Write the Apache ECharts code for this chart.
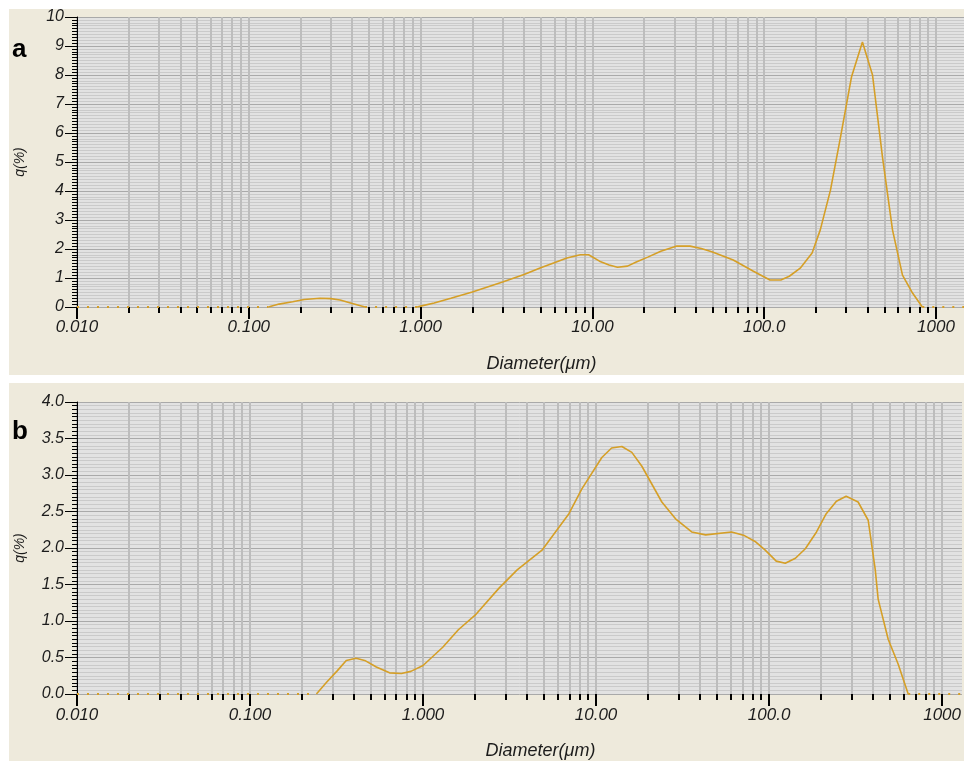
<!DOCTYPE html>
<html>
<head>
<meta charset="utf-8">
<script src="https://cdn.jsdelivr.net/npm/echarts@6/dist/echarts.min.js"></script>
<style>
  html, body { margin: 0; padding: 0; background: #ffffff; }
  #chart { width: 964px; height: 761px; }
</style>
</head>
<body>
<div id="chart"></div>
<script>
// Particle size distributions, q(%) against diameter (µm), two samples.
const diamA = [0.01, 0.13, 0.15, 0.18, 0.21, 0.26, 0.3, 0.34, 0.4, 0.475, 0.955,
  1.0, 1.2, 1.5, 2.0, 3.0, 4.0, 5.0, 6.0, 7.1, 8.5, 9.5, 11, 12.5, 14, 16, 18, 21, 25,
  31, 37, 43, 50, 66, 86, 108, 125, 140, 162, 190, 212, 243, 278, 322, 373, 427, 488,
  558, 638, 730, 832, 1455];
const qA = [0, 0, 0.1, 0.18, 0.26, 0.3, 0.29, 0.24, 0.12, 0, 0,
  0.03, 0.14, 0.3, 0.52, 0.86, 1.12, 1.35, 1.53, 1.69, 1.8, 1.8, 1.58, 1.45, 1.37, 1.41, 1.55, 1.72, 1.92,
  2.1, 2.1, 2.02, 1.9, 1.62, 1.24, 0.93, 0.93, 1.06, 1.34, 1.86, 2.66, 4.03, 5.86, 7.93, 9.14, 8.0, 5.17,
  2.66, 1.1, 0.48, 0, 0];

const diamB = [0.01, 0.242, 0.277, 0.32, 0.36, 0.41, 0.46, 0.537, 0.64, 0.75, 0.85,
  1.0, 1.3, 1.6, 2.0, 2.75, 3.5, 4.87, 6.97, 8.28, 10.8, 12.3, 14.1, 16.1, 18.4, 24,
  28.8, 35.7, 43, 60.7, 72, 83, 95, 110, 124, 142, 162, 188, 214, 245, 279, 327, 374,
  411, 427, 488, 557, 637, 1303];
const qB = [0, 0, 0.16, 0.32, 0.46, 0.49, 0.46, 0.37, 0.29, 0.28, 0.31,
  0.39, 0.64, 0.88, 1.08, 1.45, 1.7, 1.97, 2.47, 2.81, 3.24, 3.37, 3.39, 3.31, 3.12, 2.63,
  2.4, 2.22, 2.18, 2.22, 2.17, 2.09, 1.97, 1.82, 1.79, 1.86, 1.99, 2.22, 2.47, 2.64, 2.71, 2.63, 2.38,
  1.7, 1.3, 0.75, 0.41, 0, 0];

// Axis ticks and labels
const decadeTicks = [0.01, 0.1, 1, 10, 100, 1000];
const decadeLabels = ['0.010', '0.100', '1.000', '10.00', '100.0', '1000'];
const minorFactors = [2, 3, 4, 5, 6, 7, 8, 9];
const xMaxA = 1455;
const xMaxB = 1303;
const yTicksA = { min: 0, max: 10, step: 1 };
const yTicksB = { min: 0, max: 4, step: 0.5 };

const lineColor = '#d59f27';
const inkColor = '#1c1c1c';

// every 2..9 × 10^k position plus the decades themselves
const allLogTicks = [];
decadeTicks.forEach(function (d) {
  allLogTicks.push(d);
  if (d < 1000) minorFactors.forEach(function (f) { allLogTicks.push(+(d * f).toPrecision(6)); });
});
const minorLogTicks = allLogTicks.filter(function (v) { return decadeTicks.indexOf(v) < 0; });

function decadeLabel(v) {
  let best = 0, err = Infinity;
  decadeTicks.forEach(function (d, i) {
    const e = Math.abs(Math.log10(v) - Math.log10(d));
    if (e < err) { err = e; best = i; }
  });
  return decadeLabels[best];
}

// Split a curve into its solid part (segments touching a non-zero value)
// and its dotted baseline part (segments where both ends are zero).
function splitCurve(xs, ys) {
  const solid = [], dotted = [];
  for (let i = 0; i < xs.length; i++) {
    solid.push([xs[i], ys[i]]);
    dotted.push([xs[i], ys[i] === 0 ? 0 : null]);
    if (i < xs.length - 1) {
      const gap = Math.sqrt(xs[i] * xs[i + 1]);
      const bothZero = ys[i] === 0 && ys[i + 1] === 0;
      if (bothZero) solid.push([gap, null]);
      else dotted.push([gap, null]);
    }
  }
  return { solid: solid, dotted: dotted };
}

const labelFont = { fontFamily: 'Liberation Sans, Arial, sans-serif', fontStyle: 'italic', color: inkColor };

function xAxesFor(gridIndex, xMax, labelMargin) {
  return [
    {
      type: 'log', gridIndex: gridIndex, position: 'bottom', min: 0.01, max: xMax, logBase: 10,
      name: 'Diameter(μm)', nameLocation: 'middle', nameGap: 48,
      nameTextStyle: Object.assign({ fontSize: 18, padding: [0, 0, 0, 42] }, labelFont),
      axisLine: { show: false, onZero: false },
      axisTick: { show: true, inside: false, length: 12, customValues: decadeTicks,
        lineStyle: { color: '#000', width: 2 } },
      axisLabel: Object.assign({ show: true, fontSize: 17, margin: labelMargin,
        customValues: decadeTicks, formatter: decadeLabel, showMinLabel: true, showMaxLabel: true }, labelFont),
      splitLine: { show: false },
      minorTick: { show: false }, minorSplitLine: { show: false }
    },
    {
      type: 'log', gridIndex: gridIndex, position: 'bottom', offset: 0, min: 0.01, max: xMax, logBase: 10,
      axisLine: { show: false, onZero: false },
      axisTick: { show: true, inside: false, length: 6, customValues: minorLogTicks,
        lineStyle: { color: '#000', width: 2 } },
      axisLabel: { show: false },
      splitLine: { show: false }
    },
    {
      type: 'log', gridIndex: gridIndex, position: 'bottom', offset: 0, min: 0.01, max: xMax, logBase: 10,
      axisLine: { show: false, onZero: false },
      axisTick: { show: false, customValues: allLogTicks },
      axisLabel: { show: false },
      splitLine: { show: true, lineStyle: { color: '#bdbdbd', width: 2 } }
    }
  ];
}

function yAxisFor(gridIndex, t, fmt) {
  return {
    type: 'value', gridIndex: gridIndex, min: t.min, max: t.max, interval: t.step,
    name: 'q(%)', nameLocation: 'middle', nameGap: 50, nameRotate: 90,
    nameTextStyle: Object.assign({ fontSize: 14 }, labelFont),
    axisLine: { show: true, lineStyle: { color: '#000', width: 1 } },
    axisTick: { show: true, length: 12, lineStyle: { color: '#000', width: 1 } },
    minorTick: { show: true, splitNumber: 10, length: 5, lineStyle: { color: '#000', width: 1 } },
    axisLabel: Object.assign({ fontSize: 16, margin: 13, formatter: fmt }, labelFont),
    splitLine: { show: true, lineStyle: { color: '#a9a9a9', width: 1 } },
    minorSplitLine: { show: true, lineStyle: { color: '#cacaca', width: 1 } }
  };
}

const curveA = splitCurve(diamA, qA);
const curveB = splitCurve(diamB, qB);

function curveSeries(xIdx, yIdx, curve) {
  return [
    {
      type: 'line', xAxisIndex: xIdx, yAxisIndex: yIdx, data: curve.dotted,
      showSymbol: false, connectNulls: false, silent: true, z: 3,
      lineStyle: { color: lineColor, width: 2.2, type: [2, 8], cap: 'butt' }
    },
    {
      type: 'line', xAxisIndex: xIdx, yAxisIndex: yIdx, data: curve.solid,
      showSymbol: false, connectNulls: false, silent: true, z: 4,
      lineStyle: { color: lineColor, width: 1.6 }
    }
  ];
}

const chart = echarts.init(document.getElementById('chart'), null, { renderer: 'canvas' });

chart.setOption({
  animation: false,
  backgroundColor: '#ffffff',
  graphic: [
    { type: 'rect', z: -100, shape: { x: 9, y: 9, width: 955, height: 366 }, style: { fill: '#eeeadc' }, silent: true },
    { type: 'rect', z: -100, shape: { x: 9, y: 383, width: 955, height: 378 }, style: { fill: '#eeeadc' }, silent: true },
    { type: 'text', z: 10, x: 12, y: 37, style: { text: 'a', font: 'bold 26px "Liberation Sans", Arial, sans-serif', fill: '#000', textBaseline: 'alphabetic' } },
    { type: 'text', z: 10, x: 12, y: 419, style: { text: 'b', font: 'bold 26px "Liberation Sans", Arial, sans-serif', fill: '#000', textBaseline: 'alphabetic' } }
  ],
  grid: [
    { left: 77, top: 17, width: 887, height: 290, show: true, backgroundColor: '#e2e2e2', borderWidth: 0, containLabel: false },
    { left: 77, top: 402, width: 887, height: 295, show: true, backgroundColor: '#e2e2e2', borderWidth: 0, containLabel: false }
  ],
  xAxis: xAxesFor(0, xMaxA, 12).concat(xAxesFor(1, xMaxB, 13)),
  yAxis: [
    yAxisFor(0, yTicksA, function (v) { return String(v); }),
    yAxisFor(1, yTicksB, function (v) { return v.toFixed(1); })
  ],
  series: curveSeries(0, 0, curveA).concat(curveSeries(3, 1, curveB))
});
</script>
</body>
</html>
